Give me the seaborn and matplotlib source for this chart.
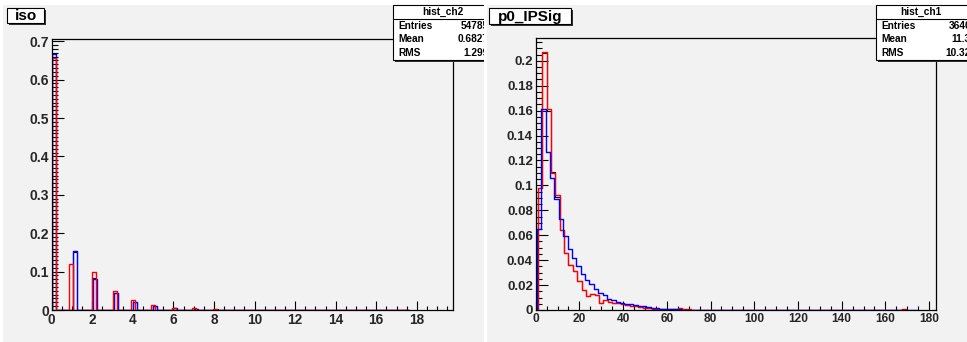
import numpy as np
import matplotlib
matplotlib.use("Agg")
import matplotlib.pyplot as plt
import seaborn as sns
from matplotlib.patches import Rectangle
from matplotlib.ticker import MultipleLocator, FuncFormatter
from matplotlib.transforms import Bbox, TransformedBbox

# ---------------- data: left panel "iso" (narrow bars) ----------------
iso_bar_width = 0.2
iso_black_x = [0.0, 1.05, 2.0, 3.05, 4.0, 5.0, 6.0, 7.0, 8.0]
iso_black_y = [0.66, 0.150, 0.084, 0.044, 0.020, 0.011, 0.005, 0.002, 0.003]
iso_blue_x = [0.0, 1.05, 2.03, 3.05, 4.0, 5.0, 6.0, 7.0, 8.0]
iso_blue_y = [0.667, 0.153, 0.081, 0.045, 0.020, 0.011, 0.006, 0.002, 0.001]
iso_red_x = [0.0, 0.87, 1.97, 3.0, 3.9, 4.9, 5.95, 6.9, 7.95, 8.95]
iso_red_y = [0.657, 0.121, 0.100, 0.050, 0.026, 0.012, 0.006, 0.005, 0.002, 0.001]
iso_range_end = 17.6
iso_xticks = [0, 2, 4, 6, 8, 10, 12, 14, 16, 18]
iso_yticks = [0, 0.1, 0.2, 0.3, 0.4, 0.5, 0.6, 0.7]

# ---------------- data: right panel "p0_IPSig" (step histograms) ----------------
ips_bin_width = 2.0
ips_black_start = 1.0
ips_black = [0.098, 0.206, 0.160, 0.111, 0.091, 0.064, 0.046, 0.036, 0.031, 0.023,
             0.016, 0.011, 0.013, 0.012, 0.0054, 0.008, 0.0067, 0.006, 0.0054, 0.0045,
             0.004, 0.0035, 0.003, 0.0025, 0.002, 0.0015, 0.001, 0.0008, 0.0006]
ips_black_end = 60.0
ips_red_start = 1.0
ips_red = [0.098, 0.207, 0.161, 0.110, 0.092, 0.064, 0.046, 0.036, 0.031, 0.023,
           0.016, 0.011, 0.013, 0.012, 0.0054, 0.008, 0.0067, 0.006, 0.0054, 0.0045,
           0.004, 0.0035, 0.003, 0.0025, 0.002, 0.0015, 0.001, 0.0008, 0.0006, 0.0005,
           0.0005, 0.001, 0.0015, 0.0012, 0.0005]
ips_red_extra_x = [167.5]
ips_red_extra_y = [0.0008]
ips_red_end = 170.0
ips_blue_start = 0.6
ips_blue = [0.065, 0.161, 0.127, 0.106, 0.089, 0.073, 0.059, 0.049, 0.042, 0.035,
            0.029, 0.024, 0.021, 0.0166, 0.0134, 0.012, 0.009, 0.008, 0.0067, 0.006,
            0.005, 0.0045, 0.004, 0.0035, 0.003, 0.0025, 0.002, 0.0015, 0.0012, 0.001,
            0.0008, 0.0006, 0.0005, 0.0004, 0.0003]
ips_blue_end = 174.6
ips_xticks = [0, 20, 40, 60, 80, 100, 120, 140, 160, 180]
ips_yticks = [0, 0.02, 0.04, 0.06, 0.08, 0.1, 0.12, 0.14, 0.16, 0.18, 0.2]

# stat boxes
stat_left = ("hist_ch2", [("Entries", "54785"), ("Mean", "0.6827"), ("RMS", "1.299")])
stat_right = ("hist_ch1", [("Entries", "3640"), ("Mean", "11.3"), ("RMS", "10.32")])

# ---------------- style ----------------
sns.set_theme(style="white")
plt.rcParams['font.family'] = ['Liberation Sans', 'DejaVu Sans']
plt.rcParams['font.weight'] = 'bold'

W, H = 967, 342
fig = plt.figure(figsize=(W / 100, H / 100), dpi=100)
fig.patch.set_facecolor('white')

PANEL = '#f2f2f2'
bg = fig.add_axes([0, 0, 1, 1], zorder=0)
bg.set_xlim(0, W); bg.set_ylim(H, 0); bg.axis('off')
bg.add_patch(Rectangle((3, 5), 480.5, 337, facecolor=PANEL, edgecolor='none'))
bg.add_patch(Rectangle((486.5, 5), 480.5, 337, facecolor=PANEL, edgecolor='none'))


def px_axes(x0, x1, y0, y1):
    ax = fig.add_axes([x0 / W, 1 - y1 / H, (x1 - x0) / W, (y1 - y0) / H], zorder=1)
    ax.set_facecolor(PANEL)
    return ax


def step_hist(ax, lefts, heights, width, end, color, lw=1.0):
    edges = [lefts[0] - width]
    for l in lefts:
        if l > edges[-1] + 1e-9:
            edges.append(l)
        edges.append(l + width)
    if end > edges[-1]:
        edges.append(end)
    centers = [l + width / 2 for l in lefts]
    sns.histplot(x=centers, weights=heights, bins=edges, element='step', fill=False,
                 color=color, linewidth=lw, ax=ax)


def fmt(v, p):
    v = round(v, 6)
    return '0' if abs(v) < 1e-12 else f'{v:g}'


def style_axes(ax, xlim, ylim, xmaj, xmin, ymaj, ymin, xsize, ysize):
    ax.set_xlim(*xlim); ax.set_ylim(*ylim)
    ax.xaxis.set_major_locator(MultipleLocator(xmaj))
    ax.xaxis.set_minor_locator(MultipleLocator(xmin))
    ax.yaxis.set_major_locator(MultipleLocator(ymaj))
    ax.yaxis.set_minor_locator(MultipleLocator(ymin))
    ax.xaxis.set_major_formatter(FuncFormatter(fmt))
    ax.yaxis.set_major_formatter(FuncFormatter(fmt))
    ax.set_xlabel(''); ax.set_ylabel('')
    ax.tick_params(which='both', direction='in', top=False, right=False,
                   bottom=True, left=True, color='black', width=0.8)
    ax.tick_params(axis='y', which='major', length=8.5, pad=2, labelsize=ysize)
    ax.tick_params(axis='y', which='minor', length=4.3)
    ax.tick_params(axis='x', which='major', length=6.5, pad=2, labelsize=xsize)
    ax.tick_params(axis='x', which='minor', length=3)
    for lab in ax.get_xticklabels() + ax.get_yticklabels():
        lab.set_fontweight('bold')
    for s in ax.spines.values():
        s.set_visible(True); s.set_color('black'); s.set_linewidth(0.9)


# left panel
ax1 = px_axes(51.7, 453.3, 39.3, 310)
step_hist(ax1, iso_black_x, iso_black_y, iso_bar_width, iso_range_end, 'black', 0.8)
step_hist(ax1, iso_blue_x, iso_blue_y, iso_bar_width, iso_range_end, '#0000ff')
step_hist(ax1, iso_red_x, iso_red_y, iso_bar_width, iso_range_end, '#ff0000')
style_axes(ax1, (0, 19.8), (0, 0.705), iso_xticks[1] - iso_xticks[0], 0.5,
           iso_yticks[1] - iso_yticks[0], 0.01, 9.8, 10)

# right panel
ax2 = px_axes(535.7, 936.3, 38.3, 310)
blk_lefts = [ips_black_start + ips_bin_width * i for i in range(len(ips_black))]
red_lefts = [ips_red_start + ips_bin_width * i for i in range(len(ips_red))] + ips_red_extra_x
blu_lefts = [ips_blue_start + ips_bin_width * i for i in range(len(ips_blue))]
step_hist(ax2, blk_lefts, ips_black, ips_bin_width, ips_black_end, 'black', 0.8)
step_hist(ax2, red_lefts, ips_red + ips_red_extra_y, ips_bin_width, ips_red_end, '#ff0000')
step_hist(ax2, blu_lefts, ips_blue, ips_bin_width, ips_blue_end, '#0000ff')
style_axes(ax2, (0, 183.3), (0, 0.218), ips_xticks[1] - ips_xticks[0], 5,
           round(ips_yticks[1] - ips_yticks[0], 4), 0.005, 8.6, 9.5)

# overlay: title boxes and stat boxes
ov = fig.add_axes([0, 0, 1, 1], zorder=5)
ov.set_xlim(0, W); ov.set_ylim(H, 0); ov.axis('off')


def title_box(x, y, w, h, text):
    ov.add_patch(Rectangle((x + 1.5, y + 1.5), w, h, facecolor='#333333', edgecolor='none'))
    ov.add_patch(Rectangle((x, y), w, h, facecolor='white', edgecolor='black', linewidth=0.8))
    ov.text(x + w / 2, y + h / 2 + 0.5, text, ha='center', va='center',
            fontsize=11, fontweight='bold', color='black')


title_box(7, 8, 37, 15, 'iso')
title_box(489, 8, 82, 16, 'p0_IPSig')


def stat_box(x, y, w, h, clip_x, header, rows, header_cx, val_right):
    clip = TransformedBbox(Bbox([[0, 0], [clip_x, H]]), ov.transData)
    sh = Rectangle((x + 1.5, y + 1.5), w, h, facecolor='#333333', edgecolor='none')
    bx = Rectangle((x, y), w, h, facecolor='white', edgecolor='black', linewidth=0.8)
    for p in (sh, bx):
        ov.add_patch(p)
        p.set_clip_box(clip)
    ln, = ov.plot([x, x + w], [19, 19], color='black', linewidth=0.8)
    ln.set_clip_box(clip)
    t = ov.text(header_cx, 12, header, ha='center', va='center', fontsize=7.3,
                fontweight='bold', color='black', clip_on=True)
    t.set_clip_box(clip)
    for (lab, val), yy in zip(rows, [26, 39.5, 53]):
        t1 = ov.text(x + 5, yy, lab, ha='left', va='center', fontsize=7.3,
                     fontweight='bold', color='black', clip_on=True)
        t2 = ov.text(val_right, yy, val, ha='right', va='center', fontsize=7.3,
                     fontweight='bold', color='black', clip_on=True)
        t1.set_clip_box(clip); t2.set_clip_box(clip)


stat_box(393.3, 5, 100, 55, 483.5, stat_left[0], stat_left[1], 443.3, 489)
stat_box(876.3, 5, 100, 55, 967, stat_right[0], stat_right[1], 920.7, 971)

fig.savefig('out.png', dpi=100, facecolor=fig.get_facecolor())
